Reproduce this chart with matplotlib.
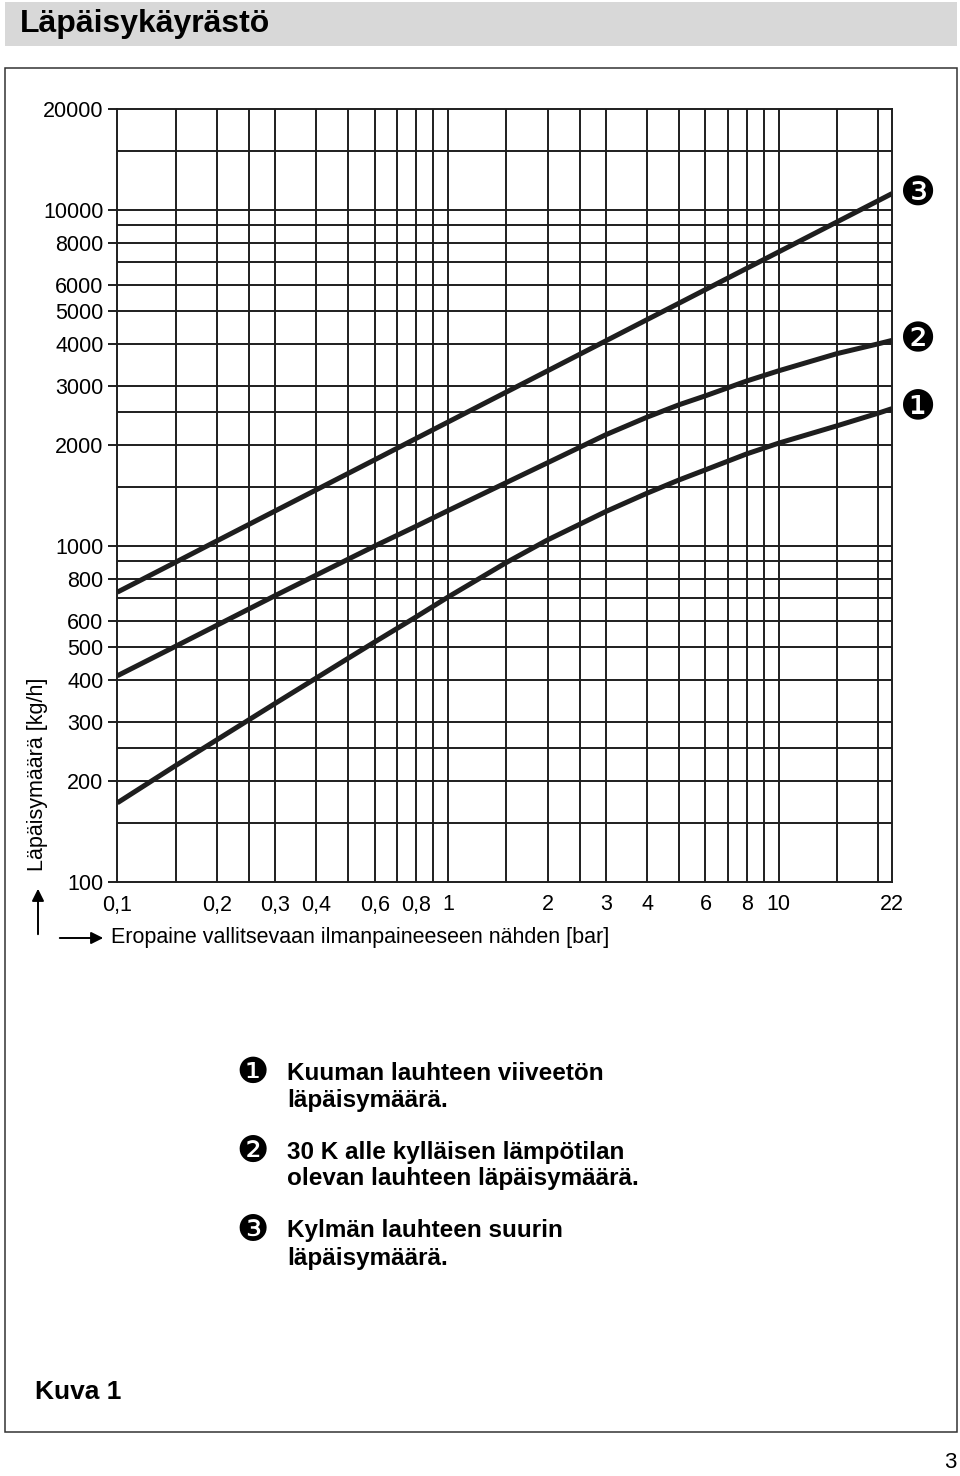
import matplotlib
matplotlib.use('Agg')
import matplotlib.pyplot as plt
from matplotlib.patches import Rectangle, FancyArrowPatch

plt.rcParams['font.family'] = ['Liberation Sans', 'DejaVu Sans']

# --- data (log-log) ---
pressure = [0.1, 0.15, 0.2, 0.3, 0.4, 0.5, 0.6, 0.8, 1, 1.5, 2, 3, 4, 5, 6, 8, 10, 15, 20, 22]
flow_hot = [172, 222, 265, 340, 405, 464, 518, 615, 705, 893, 1043, 1267, 1437, 1574, 1686,
            1881, 2025, 2280, 2487, 2565]
flow_sub30 = [411, 503, 581, 712, 820, 915, 1000, 1145, 1275, 1545, 1770, 2145, 2420, 2635, 2800,
              3100, 3325, 3740, 4000, 4095]
flow_cold = [729, 895, 1036, 1272, 1471, 1647, 1806, 2090, 2340, 2873, 3324, 4082, 4723, 5287,
             5799, 6709, 7512, 9224, 10671, 11200]
curve_marks = ['❶', '❷', '❸']

grid_x = [0.15, 0.2, 0.25, 0.3, 0.4, 0.5, 0.6, 0.7, 0.8, 0.9, 1, 1.5, 2, 2.5, 3, 4, 5, 6, 7, 8, 9,
          10, 15, 20]
grid_y = [150, 200, 250, 300, 400, 500, 600, 700, 800, 900, 1000, 1500, 2000, 2500, 3000, 4000,
          5000, 6000, 7000, 8000, 9000, 10000, 15000]
xtick_vals = [0.1, 0.2, 0.3, 0.4, 0.6, 0.8, 1, 2, 3, 4, 6, 8, 10, 22]
xtick_labels = ['0,1', '0,2', '0,3', '0,4', '0,6', '0,8', '1', '2', '3', '4', '6', '8', '10', '22']
ytick_vals = [100, 200, 300, 400, 500, 600, 800, 1000, 2000, 3000, 4000, 5000, 6000, 8000, 10000,
              20000]

legend_lines = [
    ['Kuuman lauhteen viiveetön', 'läpäisymäärä.'],
    ['30 K alle kylläisen lämpötilan', 'olevan lauhteen läpäisymäärä.'],
    ['Kylmän lauhteen suurin', 'läpäisymäärä.'],
]

W, H = 960, 1476
INK = '#1e1e1e'


def fx(x):
    return x / W


def fy(y):
    return 1 - y / H


fig = plt.figure(figsize=(W / 100, H / 100), dpi=100)

# header bar and frame
fig.add_artist(Rectangle((fx(5), fy(46)), fx(952), 44 / H, transform=fig.transFigure,
                         facecolor='#d8d8d8', edgecolor='none'))
fig.text(fx(20), fy(24), 'Läpäisykäyrästö', fontsize=23, fontweight='bold', color='black',
         va='center', ha='left')
fig.add_artist(Rectangle((fx(5), fy(1432)), fx(952), (1432 - 68) / H, transform=fig.transFigure,
                         facecolor='none', edgecolor='#333333', linewidth=1.1))

# chart
ax = fig.add_axes([fx(117.3), fy(882), (892 - 117.3) / W, (882 - 109) / H])
ax.set_xscale('log')
ax.set_yscale('log')
ax.set_xlim(0.1, 22)
ax.set_ylim(100, 20000)

for gx in grid_x:
    ax.axvline(gx, color=INK, linewidth=1.4, zorder=1)
for gy in grid_y:
    ax.axhline(gy, color=INK, linewidth=1.4, zorder=1)

for flow in (flow_hot, flow_sub30, flow_cold):
    ax.plot(pressure, flow, color=INK, linewidth=3.6, solid_capstyle='butt', zorder=3)

for sp in ax.spines.values():
    sp.set_linewidth(1.4)
    sp.set_color(INK)

ax.xaxis.set_minor_locator(plt.NullLocator())
ax.yaxis.set_minor_locator(plt.NullLocator())
ax.set_xticks(xtick_vals)
ax.set_xticklabels(xtick_labels)
ax.set_yticks(ytick_vals)
ax.set_yticklabels([str(v) for v in ytick_vals])
ax.tick_params(axis='x', length=0, pad=9, labelsize=15.5)
ax.tick_params(axis='y', length=6.5, width=1.4, color=INK, pad=3.5, labelsize=15.5)

# curve numbers at right end
for mark, flow in zip(curve_marks, (flow_hot, flow_sub30, flow_cold)):
    ax.annotate(mark, xy=(pressure[-1], flow[-1]), xytext=(fx(918), 0),
                textcoords=('figure fraction', 'offset points'), va='center', ha='center',
                fontsize=29, family=['DejaVu Sans'], annotation_clip=False)

# axis labels with arrows
fig.text(fx(38), fy(774), 'Läpäisymäärä [kg/h]', rotation=90, fontsize=15.5, va='center',
         ha='center')
fig.text(fx(111), fy(938), 'Eropaine vallitsevaan ilmanpaineeseen nähden [bar]', fontsize=15.5,
         va='center', ha='left')
fig.add_artist(FancyArrowPatch((fx(38), fy(937)), (fx(38), fy(886)), transform=fig.transFigure,
                               arrowstyle='-|>', mutation_scale=18, color='black', linewidth=1.4))
fig.add_artist(FancyArrowPatch((fx(57), fy(938)), (fx(106), fy(938)), transform=fig.transFigure,
                               arrowstyle='-|>', mutation_scale=18, color='black', linewidth=1.4))

# legend
for i, lines in enumerate(legend_lines):
    y0 = 1073 + i * 79
    fig.text(fx(253), fy(y0), curve_marks[i], fontsize=26, family=['DejaVu Sans'], va='center',
             ha='center')
    for j, line in enumerate(lines):
        fig.text(fx(287), fy(y0 + j * 27), line, fontsize=17.5, fontweight='bold', va='center',
                 ha='left')

fig.text(fx(35), fy(1392), 'Kuva 1', fontsize=19, fontweight='bold', va='center', ha='left')
fig.text(fx(956), fy(1462), '3', fontsize=16, va='center', ha='right')

fig.savefig('out.png', dpi=100)
